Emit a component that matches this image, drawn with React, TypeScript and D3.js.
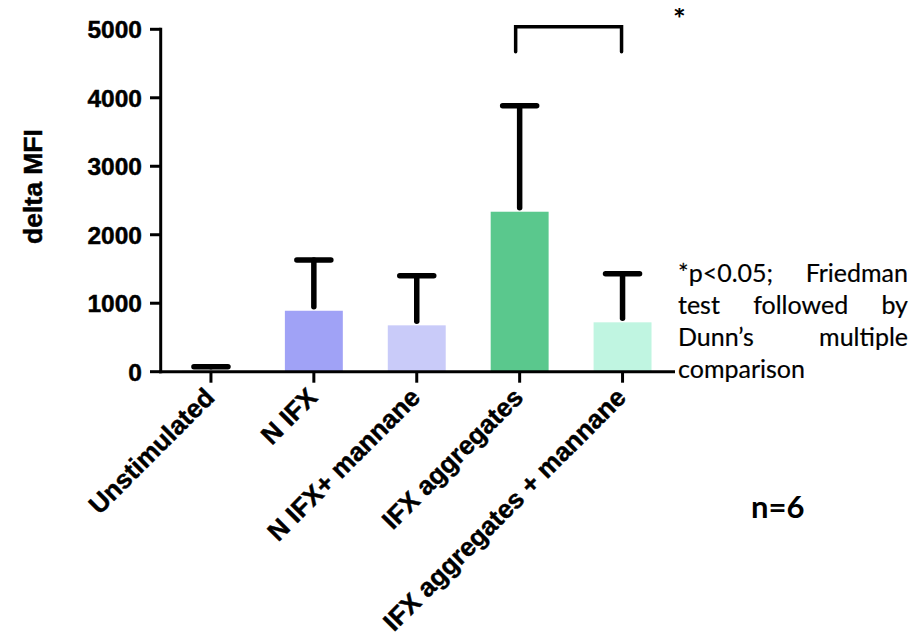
import React, { useEffect, useRef } from "react";
import * as d3 from "d3";

// Stimulation conditions and their delta MFI (mean and upper SD)
const categories = [
  "Unstimulated",
  "N IFX",
  "N IFX+ mannane",
  "IFX aggregates",
  "IFX aggregates + mannane",
];
const means = [15, 890, 677, 2336, 721];
const sds = [58, 741, 725, 1548, 710];
const barColors = ["#d8d8d8", "#a0a2f6", "#c9cbf9", "#5ac88d", "#c0f5e1"];
const yTicks = [0, 1000, 2000, 3000, 4000, 5000];
const noteLines = [
  ["*p<0.05;", "Friedman"],
  ["test", "followed", "by"],
  ["Dunn\u2019s", "multiple"],
  ["comparison"],
];
const sigPair = ["IFX aggregates", "IFX aggregates + mannane"];

const W = 915;
const H = 639;
const AXIS_FONT = "'Liberation Sans', Arial, sans-serif";
const NOTE_FONT = "Lato, 'Open Sans', sans-serif";

export default function App() {
  const ref = useRef<SVGSVGElement>(null);

  useEffect(() => {
    const svg = d3.select(ref.current);
    svg.selectAll("*").remove();

    const x = d3
      .scaleBand<string>()
      .domain(categories)
      .range([159.5, 674])
      .paddingInner(0.437)
      .paddingOuter(0.2185);
    const y = d3.scaleLinear().domain([0, 5000]).range([371.7, 29.3]);
    const cx = (c: string) => (x(c) as number) + x.bandwidth() / 2;

    const g = svg.append("g");

    // bars
    g.selectAll("rect.bar")
      .data(categories)
      .join("rect")
      .attr("class", "bar")
      .attr("x", (c) => x(c) as number)
      .attr("width", x.bandwidth())
      .attr("y", (_, i) => y(means[i]))
      .attr("height", (_, i) => y(0) - y(means[i]))
      .attr("fill", (_, i) => barColors[i]);

    // upper error bars
    const eb = g
      .selectAll("g.err")
      .data(categories)
      .join("g")
      .attr("class", "err")
      .attr("stroke", "#000")
      .attr("stroke-width", 5.5)
      .attr("stroke-linecap", "round");
    eb.append("line")
      .attr("x1", (c) => cx(c))
      .attr("x2", (c) => cx(c))
      .attr("y1", (_, i) => Math.max(y(means[i]) - 4, y(means[i] + sds[i])))
      .attr("y2", (_, i) => y(means[i] + sds[i]));
    eb.append("line")
      .attr("x1", (c) => cx(c) - 17)
      .attr("x2", (c) => cx(c) + 17)
      .attr("y1", (_, i) => y(means[i] + sds[i]))
      .attr("y2", (_, i) => y(means[i] + sds[i]));

    // axes
    const axisG = svg.append("g").attr("stroke", "#000").attr("stroke-width", 3);
    axisG
      .append("line")
      .attr("x1", 160.7)
      .attr("x2", 160.7)
      .attr("y1", y(5000) - 1.5)
      .attr("y2", y(0) + 1.5);
    axisG
      .selectAll("line.yt")
      .data(yTicks)
      .join("line")
      .attr("class", "yt")
      .attr("x1", 150)
      .attr("x2", 160.7)
      .attr("y1", (d) => y(d))
      .attr("y2", (d) => y(d));
    axisG
      .append("line")
      .attr("x1", 159.2)
      .attr("x2", 675)
      .attr("y1", y(0))
      .attr("y2", y(0));
    axisG
      .selectAll("line.xt")
      .data(categories)
      .join("line")
      .attr("class", "xt")
      .attr("x1", (c) => cx(c))
      .attr("x2", (c) => cx(c))
      .attr("y1", y(0))
      .attr("y2", y(0) + 11);

    const boldText = (sel: d3.Selection<any, any, any, any>, size: number) =>
      sel
        .attr("font-family", AXIS_FONT)
        .attr("font-weight", "bold")
        .attr("font-size", size)
        .attr("fill", "#000")
        .attr("stroke", "#000")
        .attr("stroke-width", 0.45);

    // y tick labels
    boldText(
      svg
        .append("g")
        .selectAll("text")
        .data(yTicks)
        .join("text")
        .attr("x", 142)
        .attr("y", (d) => y(d))
        .attr("text-anchor", "end")
        .attr("dy", "0.36em")
        .text((d) => String(d)),
      24.5
    );

    // y axis title
    boldText(
      svg
        .append("text")
        .attr("transform", "translate(41.5,186.5) rotate(-90)")
        .attr("text-anchor", "middle")
        .text("delta MFI"),
      26.5
    );

    // rotated category labels
    boldText(
      svg
        .append("g")
        .selectAll("text")
        .data(categories)
        .join("text")
        .attr("transform", (c) => `translate(${cx(c) + 5},399) rotate(-45)`)
        .attr("text-anchor", "end")
        .text((c) => c),
      26
    );

    // significance bracket
    const bx1 = cx(sigPair[0]) - 4;
    const bx2 = cx(sigPair[1]) - 1;
    svg
      .append("path")
      .attr("d", `M${bx1},51.7 V26.7 H${bx2} V51.7`)
      .attr("fill", "none")
      .attr("stroke", "#000")
      .attr("stroke-width", 3.5)
      .attr("stroke-linecap", "round");

    // significance star, top edge cut by its frame
    svg
      .append("clipPath")
      .attr("id", "starClip")
      .append("rect")
      .attr("x", 660)
      .attr("y", 8)
      .attr("width", 40)
      .attr("height", 20);
    svg
      .append("text")
      .attr("clip-path", "url(#starClip)")
      .attr("x", 673)
      .attr("y", 30)
      .attr("font-family", NOTE_FONT)
      .attr("font-weight", "bold")
      .attr("font-size", 30)
      .attr("fill", "#000")
      .text("*");

    // statistical note, justified between two edges
    const left = 678;
    const right = 908;
    const note = svg
      .append("g")
      .attr("font-family", NOTE_FONT)
      .attr("font-size", 25)
      .attr("fill", "#000")
      .attr("stroke", "#000")
      .attr("stroke-width", 0.2);
    noteLines.forEach((words, li) => {
      const baseline = 282 + li * 32;
      const nodes = words.map((w) => note.append("text").attr("y", baseline).text(w));
      const widths = nodes.map((n) => (n.node() as SVGTextElement).getComputedTextLength());
      const isLast = li === noteLines.length - 1;
      if (isLast || words.length === 1) {
        let cur = left;
        nodes.forEach((n, i) => {
          n.attr("x", cur);
          cur += widths[i] + 6;
        });
      } else {
        const total = d3.sum(widths);
        const gap = (right - left - total) / (words.length - 1);
        let cur = left;
        nodes.forEach((n, i) => {
          n.attr("x", cur);
          cur += widths[i] + gap;
        });
      }
    });

    // sample size
    svg
      .append("text")
      .attr("x", 751)
      .attr("y", 518)
      .attr("font-family", NOTE_FONT)
      .attr("font-weight", "bold")
      .attr("font-size", 31)
      .attr("fill", "#000")
      .text("n=6");
  }, []);

  return (
    <svg
      ref={ref}
      width={W}
      height={H}
      style={{ position: "absolute", left: 0, top: 0, background: "#fff" }}
    />
  );
}
